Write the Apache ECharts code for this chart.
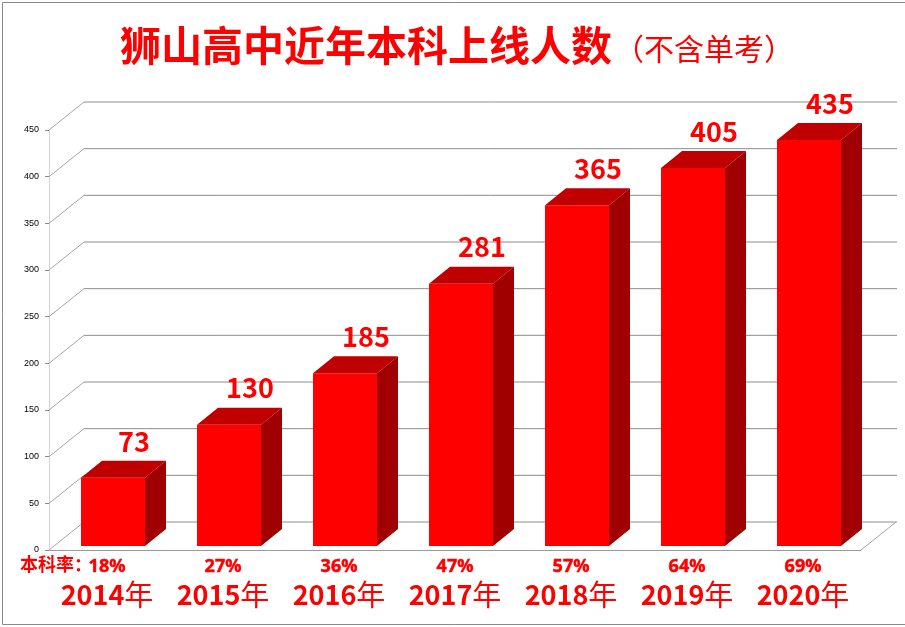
<!DOCTYPE html>
<html lang="zh-cn">
<head>
<meta charset="UTF-8">
<title>狮山高中近年本科上线人数</title>
<style>
  html, body { margin: 0; padding: 0; background: #fff; }
  #main { width: 905px; height: 627px; }
</style>
</head>
<body>
<div id="main"></div>
<script src="https://cdn.jsdelivr.net/npm/echarts@6/dist/echarts.min.js"></script>
<script>
// 数据
var years = ['2014', '2015', '2016', '2017', '2018', '2019', '2020'];
var counts = [73, 130, 185, 281, 365, 405, 435];
var rates = ['18%', '27%', '36%', '47%', '57%', '64%', '69%'];
var yTicks = [0, 50, 100, 150, 200, 250, 300, 350, 400, 450];

// 3D 偏移
var WALL_DX = 35, WALL_DY = 28;
var BAR_W = 64, BAR_DX = 21, BAR_DY = 17;
var CJK = '"Noto Sans CJK SC", "Noto Sans", sans-serif';
var LATIN = '"Noto Sans", "Noto Sans CJK SC", sans-serif';

var myChart = echarts.init(document.getElementById('main'));

myChart.setOption({
  backgroundColor: '#fff',
  animation: false,
  title: {
    left: 115,
    top: 20,
    text: '{a|狮山高中近年本科上线人数}{b|（不含单考）}',
    textStyle: {
      rich: {
        a: { fontSize: 41, fontWeight: 'bold', color: '#ff0000', fontFamily: CJK },
        b: { fontSize: 30, fontWeight: 'normal', color: '#ff0000', fontFamily: CJK, padding: [6, 0, 0, 2] }
      }
    }
  },
  graphic: [
    {
      type: 'rect',
      shape: { x: 2.5, y: 2.5, width: 960, height: 622 },
      style: { fill: 'none', stroke: '#8a8a8a', lineWidth: 1 },
      silent: true
    },
    {
      type: 'text',
      right: 905 - 92,
      top: 555,
      style: { text: '本科率：', fill: '#ff0000', font: 'bold 18px ' + CJK }
    }
  ],
  grid: {
    left: 49, right: 44, top: 130, bottom: 77,
    outerBoundsMode: 'none'
  },
  xAxis: {
    type: 'category',
    data: years,
    axisLine: { lineStyle: { color: '#9a9a9a' } },
    axisTick: { length: 10, lineStyle: { color: '#8a8a8a' } },
    axisLabel: {
      margin: 5,
      interval: 0,
      fontWeight: 'bold',
      formatter: function (v, i) {
        return '{p|' + rates[i] + '}\n{y|' + v + '}{n|年}';
      },
      rich: {
        p: { fontSize: 18, fontWeight: 'bold', color: '#ff0000', fontFamily: LATIN, lineHeight: 23,
             textBorderColor: '#ff0000', textBorderWidth: 0.5 },
        y: { fontSize: 27, fontWeight: 'bold', color: '#ff0000', fontFamily: CJK, lineHeight: 34 },
        n: { fontSize: 29, fontWeight: 'normal', color: '#ff0000', fontFamily: CJK, lineHeight: 34 }
      }
    }
  },
  yAxis: {
    type: 'value',
    min: 0, max: 450, interval: 50,
    axisLine: { show: true, lineStyle: { color: '#d4d4d4' } },
    axisTick: { show: true, length: 4, lineStyle: { color: '#8a8a8a' } },
    axisLabel: { margin: 10, fontSize: 9, color: '#000', fontFamily: '"Liberation Sans", sans-serif' },
    splitLine: { show: false }
  },
  series: [
    {
      // 背景墙与底面
      type: 'custom',
      z: 1,
      silent: true,
      data: yTicks.map(function (v) { return [0, v]; }),
      renderItem: function (params, api) {
        var cs = params.coordSys;
        var y = api.coord([0, api.value(1)])[1];
        var left = cs.x, right = cs.x + cs.width;
        var kids = [
          { type: 'line', shape: { x1: left, y1: y, x2: left + WALL_DX, y2: y - WALL_DY },
            style: { stroke: '#a6a6a6', lineWidth: 1 } },
          { type: 'line', shape: { x1: left + WALL_DX, y1: y - WALL_DY, x2: right + WALL_DX + 1, y2: y - WALL_DY },
            style: { stroke: '#8c8c8c', lineWidth: 1 } }
        ];
        if (api.value(1) === 0) {
          kids.push({ type: 'line', shape: { x1: right, y1: y, x2: right + WALL_DX, y2: y - WALL_DY },
            style: { stroke: '#a6a6a6', lineWidth: 1 } });
        }
        return { type: 'group', children: kids };
      }
    },
    {
      // 立体柱
      type: 'custom',
      z: 2,
      data: counts.map(function (v, i) { return [i, v]; }),
      renderItem: function (params, api) {
        var base = api.coord([api.value(0), 0]);
        var top = api.coord([api.value(0), api.value(1)]);
        var x0 = base[0] - BAR_W / 2 + 6, x1 = x0 + BAR_W;
        var yb = base[1] - 4, yt = top[1] - 4;
        return {
          type: 'group',
          children: [
            { type: 'rect', shape: { x: x0, y: yt, width: BAR_W, height: yb - yt },
              style: { fill: '#ff0000' } },
            { type: 'polygon', shape: { points: [[x0, yt], [x0 + BAR_DX, yt - BAR_DY], [x1 + BAR_DX, yt - BAR_DY], [x1, yt]] },
              style: { fill: '#c00000' } },
            { type: 'polygon', shape: { points: [[x1, yt], [x1 + BAR_DX, yt - BAR_DY], [x1 + BAR_DX, yb - BAR_DY], [x1, yb]] },
              style: { fill: '#a00000' } },
            { type: 'text',
              style: { text: String(api.value(1)), x: x0 + BAR_W / 2 + BAR_DX, y: yt - BAR_DY - 6,
                align: 'center', verticalAlign: 'bottom',
                fill: '#ff0000', font: 'bold 27px ' + CJK } }
          ]
        };
      }
    }
  ]
});
</script>
</body>
</html>
